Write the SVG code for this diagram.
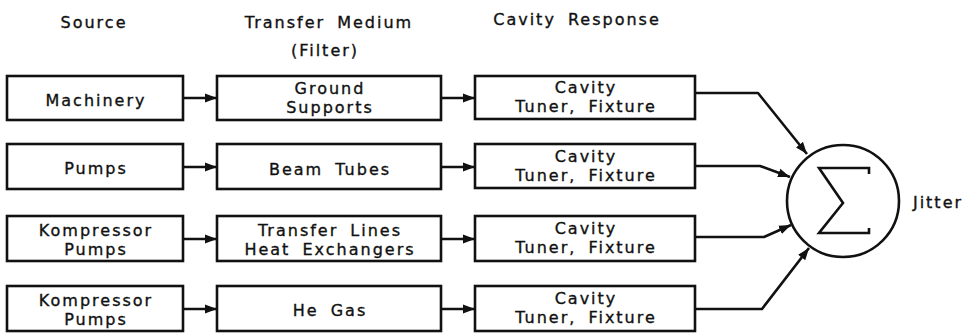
<svg xmlns="http://www.w3.org/2000/svg" width="975" height="335" viewBox="0 0 975 335">
<defs>
<style>
.box{fill:#fff;stroke:#111;stroke-width:2.6}
.t{font-family:"DejaVu Sans","Liberation Sans",sans-serif;font-size:16px;letter-spacing:2px;word-spacing:5px;fill:#111;stroke:#111;stroke-width:0.35;text-anchor:middle}
.c{fill:none;stroke:#111;stroke-width:2.6;stroke-linejoin:round;marker-end:url(#ah)}
</style>
<marker id="ah" markerUnits="userSpaceOnUse" markerWidth="13" markerHeight="10" refX="12" refY="5" orient="auto">
<path d="M0,0.5 L12,5 L0,9.5 z" fill="#111"/>
</marker>
</defs>
<rect width="975" height="335" fill="#fff"/>
<g id="headers">
<text class="t" x="94" y="28">Source</text>
<text class="t" x="329" y="28">Transfer Medium</text>
<text class="t" x="325" y="56">(Filter)</text>
<text class="t" x="577" y="25">Cavity Response</text>
</g>
<g id="connectors">
<line class="c" x1="183" y1="98" x2="217" y2="98"/>
<line class="c" x1="441" y1="98" x2="475" y2="98"/>
<line class="c" x1="183" y1="167" x2="217" y2="167"/>
<line class="c" x1="441" y1="167" x2="475" y2="167"/>
<line class="c" x1="183" y1="239" x2="217" y2="239"/>
<line class="c" x1="441" y1="239" x2="475" y2="239"/>
<line class="c" x1="183" y1="309" x2="217" y2="309"/>
<line class="c" x1="441" y1="309" x2="475" y2="309"/>
<polyline class="c" points="695,93 758,93 807,154"/>
<polyline class="c" points="695,166 760,166 790,177"/>
<polyline class="c" points="695,237 764,237 791,225"/>
<polyline class="c" points="695,309 762,309 809,248"/>
</g>
<g id="n-machinery"><rect class="box" x="7" y="76" width="176" height="44"/><text class="t" x="96" y="106">Machinery</text></g>
<g id="n-pumps"><rect class="box" x="7" y="144" width="176" height="45"/><text class="t" x="96" y="174">Pumps</text></g>
<g id="n-kompressor1"><rect class="box" x="7" y="216" width="176" height="45"/><text class="t" x="96" y="236">Kompressor</text><text class="t" x="96" y="255">Pumps</text></g>
<g id="n-kompressor2"><rect class="box" x="7" y="286" width="176" height="45"/><text class="t" x="96" y="306">Kompressor</text><text class="t" x="96" y="325">Pumps</text></g>
<g id="n-ground"><rect class="box" x="217" y="76" width="224" height="44"/><text class="t" x="330" y="94">Ground</text><text class="t" x="330" y="113">Supports</text></g>
<g id="n-beam"><rect class="box" x="217" y="144" width="224" height="45"/><text class="t" x="330" y="175">Beam Tubes</text></g>
<g id="n-transfer"><rect class="box" x="217" y="216" width="224" height="45"/><text class="t" x="330" y="236">Transfer Lines</text><text class="t" x="330" y="255">Heat Exchangers</text></g>
<g id="n-hegas"><rect class="box" x="217" y="286" width="224" height="45"/><text class="t" x="330" y="316">He Gas</text></g>
<g id="n-cavity1"><rect class="box" x="475" y="76" width="220" height="43"/><text class="t" x="586" y="93">Cavity</text><text class="t" x="586" y="112">Tuner, Fixture</text></g>
<g id="n-cavity2"><rect class="box" x="475" y="144" width="220" height="44"/><text class="t" x="586" y="162">Cavity</text><text class="t" x="586" y="181">Tuner, Fixture</text></g>
<g id="n-cavity3"><rect class="box" x="475" y="216" width="220" height="45"/><text class="t" x="586" y="234">Cavity</text><text class="t" x="586" y="253">Tuner, Fixture</text></g>
<g id="n-cavity4"><rect class="box" x="475" y="286" width="220" height="45"/><text class="t" x="586" y="304">Cavity</text><text class="t" x="586" y="323">Tuner, Fixture</text></g>
<g id="n-sum">
<circle cx="843" cy="201" r="56" fill="#fff" stroke="#111" stroke-width="2.6"/>
<path d="M869,174 L869,168 L819,168 L843,203 L819,233 L869,233 L869,228" fill="none" stroke="#111" stroke-width="2.6" stroke-linejoin="miter"/>
</g>
<g id="jitter"><text class="t" x="938" y="208">Jitter</text></g>
</svg>
